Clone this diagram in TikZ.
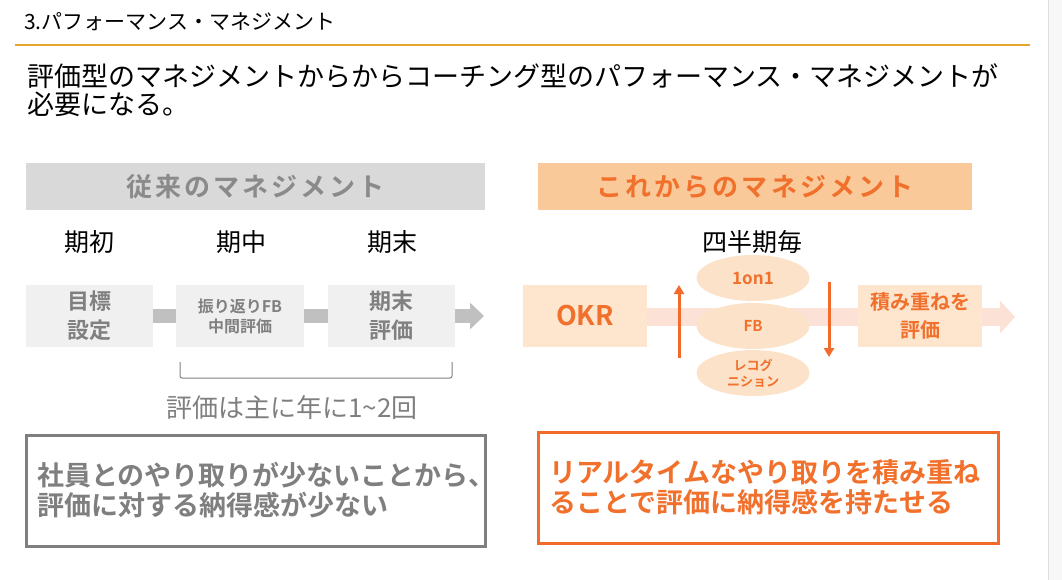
\documentclass[tikz,border=0pt]{standalone}
\usepackage{fontspec}
\setmainfont{Noto Sans CJK JP}[BoldFont={Noto Sans CJK JP Bold}]
\newfontfamily\spacedbold{Noto Sans CJK JP Bold}[LetterSpace=12]
\usetikzlibrary{arrows.meta,shapes.geometric,backgrounds}
\definecolor{gold}{HTML}{E6A52E}
\definecolor{bannergray}{HTML}{D9D9D9}
\definecolor{bannergraytext}{HTML}{8A8A8A}
\definecolor{boxgray}{HTML}{F0F0F0}
\definecolor{boxgraytext}{HTML}{808080}
\definecolor{bargray}{HTML}{C0C0C0}
\definecolor{notegray}{HTML}{7F7F7F}
\definecolor{bannerorange}{HTML}{FAC99A}
\definecolor{orangetext}{HTML}{F0702C}
\definecolor{peach}{HTML}{FDE5CE}
\definecolor{ellpeach}{HTML}{FCE2C8}
\definecolor{bandpink}{HTML}{FCE1D6}
\definecolor{arroworange}{HTML}{F26B2B}
\definecolor{edgegray}{HTML}{F7F7F7}
\newcommand{\fs}[1]{\fontsize{#1}{#1}\selectfont}
\tikzset{
  banner/.style={inner sep=0pt, minimum height=47pt, font=\fontsize{26}{26}\spacedbold},
  graybox/.style={fill=boxgray, inner sep=0pt, minimum width=127pt, minimum height=62pt, text=boxgraytext, align=center},
  peachbox/.style={fill=peach, inner sep=0pt, minimum height=62pt, text=orangetext, align=center},
  bar/.style={draw=bargray, line width=14pt},
  ell/.style={ellipse, fill=ellpeach, inner sep=0pt, minimum width=113pt, minimum height=46pt, text=orangetext, align=center},
  varrow/.style={draw=arroworange, line width=3pt, -{Triangle[length=9pt,width=10pt]}},
  period/.style={font=\fs{25}},
  note/.style={inner ysep=0pt, inner xsep=11pt, line width=3pt, minimum height=111pt, align=left, font=\bfseries\fontsize{27}{30}\selectfont}
}
\begin{document}
\begin{tikzpicture}[x=1pt,y=-1pt]
\useasboundingbox (0,0) rectangle (1062,580);
\fill[edgegray] (1048,0) rectangle (1062,580);
\draw[edgegray!80!gray, line width=0.6pt] (1048,0) -- (1048,580);

% header
\node[anchor=west, font=\fs{21}, inner sep=0pt] (title) at (24,22) {3.パフォーマンス・マネジメント};
\draw[gold, line width=2pt] (15,45) -- (1030,45);
\node[anchor=west, font=\fs{27}, inner sep=0pt] (head1) at (27,76) {評価型のマネジメントからからコーチング型のパフォーマンス・マネジメントが};
\node[anchor=west, font=\fs{27}, inner sep=0pt] (head2) at (27,104) {必要になる。};

% left side
\node[banner, fill=bannergray, text=bannergraytext, minimum width=459pt] (oldbanner) at (255.5,186.5) {従来のマネジメント};
\node[period] (p1) at (89,242) {期初};
\node[period] (p2) at (241,242) {期中};
\node[period] (p3) at (392,242) {期末};

\node[graybox, font=\bfseries\fontsize{22}{29}\selectfont] (b1) at (89.5,316) {目標\\設定};
\node[graybox, minimum width=128pt, font=\bfseries\fontsize{16}{20}\selectfont] (b2) at (240,316) {振り返りFB\\中間評価};
\node[graybox, font=\bfseries\fontsize{22}{29}\selectfont] (b3) at (391.5,316) {期末\\評価};
\coordinate (oldend) at (484,316);
\draw[bar] (b1.east) -- (b2.west);
\draw[bar] (b2.east) -- (b3.west);
\draw[bar, -{Triangle[length=14pt,width=26pt]}] (b3.east) -- (oldend);

\draw[notegray, line width=1pt, rounded corners=2pt] (180,362) -- (180,378) -- (452,378) -- (452,362);
\node[font=\fs{26}, text=notegray] (freq) at (292,408) {評価は主に年に1\textasciitilde2回};

\node[note, draw=notegray, text=notegray, text width=437pt] (oldnote) at (255.5,490.5) {社員とのやり取りが少ないことから、\\評価に対する納得感が少ない};

% right side
\node[banner, fill=bannerorange, text=orangetext, minimum width=434pt] (newbanner) at (755,186.5) {これからのマネジメント};
\node[period] (quarter) at (752,242) {四半期毎};

\node[peachbox, minimum width=124pt, font=\bfseries\fs{27}] (okr) at (585,316) {OKR};
\node[peachbox, minimum width=124pt, font=\bfseries\fontsize{20}{28}\selectfont] (accum) at (920,316) {積み重ねを\\評価};
\coordinate (newend) at (1015,317);
\begin{scope}[on background layer]
\draw[draw=bandpink, line width=18pt, -{Triangle[length=15pt,width=32pt]}] (okr.east |- 0,317) -- (newend);
\end{scope}

\node[ell, font=\bfseries\fs{17}] (e1) at (753,278) {1on1};
\node[ell, font=\bfseries\fs{15}] (e2) at (753,326) {FB};
\node[ell, font=\bfseries\fontsize{13}{16}\selectfont] (e3) at (753,373) {レコグ\\ニション};

\coordinate (upS) at (679,358);
\coordinate (upE) at (679,285);
\coordinate (dnS) at (829,282);
\coordinate (dnE) at (829,357);
\draw[varrow] (upS) -- (upE);
\draw[varrow] (dnS) -- (dnE);

\node[note, draw=arroworange, text=orangetext, text width=438pt, inner xsep=11pt] (newnote) at (768,487.5) {リアルタイムなやり取りを積み重ね\\ることで評価に納得感を持たせる};
\end{tikzpicture}
\end{document}
